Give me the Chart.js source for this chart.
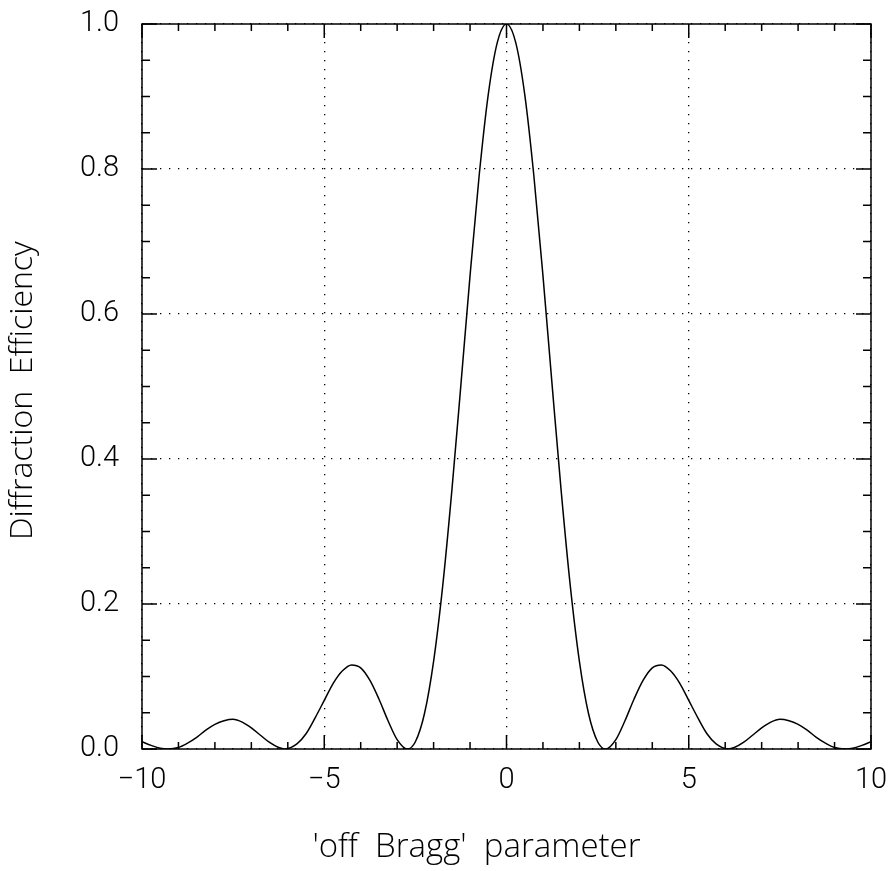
<!DOCTYPE html>
<html>
<head>
<meta charset="utf-8">
<script src="https://cdn.jsdelivr.net/npm/chart.js@4.4.1/dist/chart.umd.min.js"></script>
<style>
  body { margin: 0; background: #fff; }
  canvas { display: block; }
</style>
</head>
<body>
<canvas id="canvas" width="892" height="871"></canvas>
<script>
// 'off Bragg' parameter (x) and diffraction efficiency (y)
var offBragg = [-10, -9.75, -9.5, -9.29, -9, -8.75, -8.5, -8.25, -8, -7.75, -7.5, -7.25, -7, -6.75, -6.5, -6.25, -6.08,
    -5.75, -5.5, -5.25, -5, -4.75, -4.5, -4.25, -4, -3.75, -3.5, -3.25, -3, -2.72, -2.5, -2.25, -2, -1.75, -1.5, -1.25,
    -1, -0.75, -0.5, -0.25, 0, 0.25, 0.5, 0.75, 1, 1.25, 1.5, 1.75, 2, 2.25, 2.5, 2.72, 3, 3.25, 3.5, 3.75, 4, 4.25,
    4.5, 4.75, 5, 5.25, 5.5, 5.75, 6.08, 6.25, 6.5, 6.75, 7, 7.25, 7.5, 7.75, 8, 8.25, 8.5, 8.75, 9, 9.29, 9.5, 9.75, 10];
var efficiency = [0.010, 0.005, 0.001, 0, 0.002, 0.008, 0.016, 0.026, 0.034, 0.039, 0.041, 0.037, 0.029, 0.019, 0.009, 0.002, 0,
    0.007, 0.021, 0.043, 0.067, 0.091, 0.108, 0.116, 0.112, 0.095, 0.069, 0.039, 0.013, 0, 0.010, 0.049, 0.121, 0.225, 0.356, 0.503,
    0.653, 0.791, 0.903, 0.975, 1.0, 0.975, 0.903, 0.791, 0.653, 0.503, 0.356, 0.225, 0.121, 0.049, 0.010, 0, 0.013, 0.039, 0.069, 0.095, 0.112, 0.116,
    0.108, 0.091, 0.067, 0.043, 0.021, 0.007, 0, 0.002, 0.009, 0.019, 0.029, 0.037, 0.041, 0.039, 0.034, 0.026, 0.016, 0.008, 0.002, 0, 0.001, 0.005, 0.010];

var xTicks = [-10, -5, 0, 5, 10];
var xTickLabels = ['\u221210', '\u22125', '0', '5', '10'];
var yTicks = [0, 0.2, 0.4, 0.6, 0.8, 1.0];
var yTickLabels = ['0.0', '0.2', '0.4', '0.6', '0.8', '1.0'];

var FONT = 'Roboto, "Liberation Sans", sans-serif';
var TITLE_FONT = '"Open Sans", Roboto, sans-serif';

// box round the plot with inward tick marks on all four sides
var framePlugin = {
    id: 'frame',
    afterDatasetsDraw: function(chart) {
        var ctx = chart.ctx, a = chart.chartArea;
        var xs = chart.scales.x, ys = chart.scales.y;
        ctx.save();
        ctx.strokeStyle = '#000';
        ctx.lineWidth = 1.5;
        ctx.strokeRect(a.left, a.top, a.right - a.left, a.bottom - a.top);
        ctx.beginPath();
        for (var i = 0; i <= 20; i++) {
            var px = xs.getPixelForValue(-10 + i);
            var len = i % 5 === 0 ? 14 : 7;
            ctx.moveTo(px, a.bottom); ctx.lineTo(px, a.bottom - len);
            ctx.moveTo(px, a.top); ctx.lineTo(px, a.top + len);
        }
        for (var j = 0; j <= 20; j++) {
            var py = ys.getPixelForValue(j * 0.05);
            var l = j % 4 === 0 ? 15 : 8;
            ctx.moveTo(a.left, py); ctx.lineTo(a.left + l, py);
            ctx.moveTo(a.right, py); ctx.lineTo(a.right - l, py);
        }
        ctx.stroke();
        ctx.restore();
    }
};

window.onload = function() {
    var ctx = document.getElementById('canvas').getContext('2d');
    window.myChart = new Chart(ctx, {
        type: 'line',
        data: {
            datasets: [{
                data: offBragg.map(function(x, i) { return {x: x, y: efficiency[i]}; }),
                borderColor: '#000',
                borderWidth: 1.5,
                pointRadius: 0,
                cubicInterpolationMode: 'monotone',
                fill: false
            }]
        },
        plugins: [framePlugin],
        options: {
            responsive: false,
            animation: false,
            layout: { padding: { left: 0, right: 21, top: 24, bottom: 0 } },
            plugins: { legend: { display: false }, tooltip: { enabled: false } },
            scales: {
                x: {
                    type: 'linear',
                    min: -10, max: 10,
                    afterBuildTicks: function(scale) { scale.ticks = xTicks.map(function(v) { return {value: v}; }); },
                    afterFit: function(scale) {
                        scale.height = 122;
                        scale.paddingLeft = 0; scale.paddingRight = 0;
                    },
                    ticks: {
                        color: '#000',
                        padding: 14,
                        maxRotation: 0,
                        font: { family: FONT, size: 29, weight: 300 },
                        callback: function(v) { return xTickLabels[xTicks.indexOf(v)]; }
                    },
                    grid: { color: '#000', lineWidth: 1.3, drawTicks: false },
                    border: { display: false, dash: [1.3, 7.7] },
                    title: {
                        display: true,
                        text: "'off  Bragg'  parameter       ",
                        color: '#000',
                        padding: { top: 0, bottom: 4 },
                        font: { family: TITLE_FONT, size: 33, weight: 300 }
                    }
                },
                y: {
                    type: 'linear',
                    min: 0, max: 1,
                    afterBuildTicks: function(scale) { scale.ticks = yTicks.map(function(v) { return {value: v}; }); },
                    afterFit: function(scale) {
                        scale.width = 142;
                        scale.paddingTop = 0; scale.paddingBottom = 0;
                    },
                    ticks: {
                        color: '#000',
                        padding: 23,
                        font: { family: FONT, size: 29, weight: 300 },
                        callback: function(v) { return yTickLabels[yTicks.indexOf(v)]; }
                    },
                    grid: { color: '#000', lineWidth: 1.3, drawTicks: false },
                    border: { display: false, dash: [1.3, 7.7] },
                    title: {
                        display: true,
                        text: 'Diffraction  Efficiency ',
                        color: '#000',
                        padding: { top: 4, bottom: 0 },
                        font: { family: TITLE_FONT, size: 32, weight: 300 }
                    }
                }
            }
        }
    });
};
</script>
</body>
</html>
